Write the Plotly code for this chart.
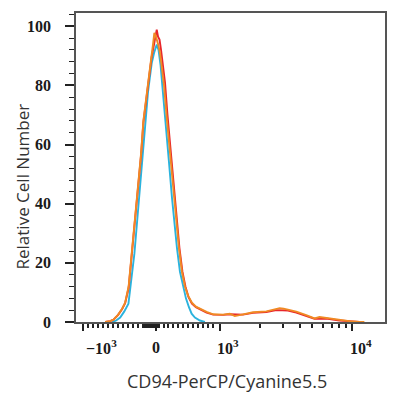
import plotly.graph_objects as go

# x positions are in display channels (biexponential display scale, 0-1023)
blue_x = [119.8, 133.0, 146.2, 159.4, 173.6, 182.5, 193.4, 202.3, 212.2, 220.4, 228.7, 238.6,
          250.8, 258.4, 267.3, 273.2, 279.8, 288.1, 298.0, 307.9, 317.8, 324.4, 334.3, 344.2,
          355.1, 364.0, 373.9, 382.8, 393.7, 410.2, 426.7]
blue_y = [0, 0.5, 1.5, 3.5, 6.2, 13, 23.2, 34, 45.8, 57, 68.4, 78,
          87.6, 91, 93.8, 92, 87, 78, 66, 54, 42, 34.5, 25, 17,
          11.9, 8, 5, 2.8, 1.5, 0.5, 0]

red_x = [96.7, 113.2, 124.1, 139.6, 152.8, 162.7, 174.2, 184.8, 195.7, 206.6, 215.5, 223.1,
         232.0, 242.9, 250.1, 256.7, 263.3, 267.3, 271.6, 276.5, 281.5, 288.1, 294.7, 302.9,
         312.8, 322.7, 332.6, 342.5, 352.4, 362.3, 372.2, 383.8, 397.0, 410.2, 432.3, 454.1,
         487.1, 509.2, 553.1, 586.1, 630.3, 663.3, 701.6, 729.3, 762.3, 789.7, 828.3, 872.2, 938.2]
red_y = [0, 0.3, 0.8, 2.4, 4.4, 6.4, 11.5, 22.5, 34.5, 45.5, 56.5, 67.5,
         75.5, 84.5, 89.5, 93, 97, 98.9, 96.5, 95.5, 92, 87, 81, 70,
         58, 46, 34.5, 25, 17, 12, 8.5, 6.2, 5.0, 4.3, 3.2, 2.5,
         2.4, 2.6, 2.5, 3.1, 3.4, 4.0, 3.9, 3.2, 2.1, 1.1, 1.2, 0.5, 0]

orange_x = [96.7, 113.2, 124.1, 139.6, 152.8, 162.7, 174.2, 184.8, 195.7, 206.6, 215.5, 223.1,
            232.0, 242.9, 250.1, 255.1, 259.4, 263.3, 266.6, 271.6, 278.2, 284.8, 291.4, 301.3,
            311.2, 321.1, 331.0, 340.9, 350.8, 360.7, 370.6, 383.8, 397.0, 410.2, 432.3, 454.1,
            487.1, 509.2, 525.7, 553.1, 586.1, 630.3, 663.3, 674.2, 687.4, 701.6, 729.3, 762.3,
            789.7, 806.2, 828.3, 850.1, 872.2, 905.2, 938.2, 954.7]
orange_y = [0, 0.3, 0.8, 2.5, 4.5, 6.5, 12, 23, 35, 46, 57, 68,
            76, 85, 90, 94, 97.8, 97, 96, 94, 91, 86, 80, 68,
            57, 46, 34.5, 25, 17, 12, 9, 6.5, 5.2, 4.5, 3.4, 2.6,
            2.5, 2.8, 2.0, 2.6, 3.3, 3.6, 4.3, 4.7, 4.5, 4.2, 3.5, 2.3,
            1.2, 1.7, 1.4, 0.9, 0.6, 0.3, 0.05, 0]

# axis decorations (display channels)
x_major_ticks = [21.8, 263.3, 477.8, 913.4]
x_tick_text = ["\u221210<sup>3</sup>", "0", "10<sup>3</sup>", "10<sup>4</sup>"]
x_label_pos = [84.5, 263.3, 503.6, 942.5]
x_minor_ticks = [38.9, 55.4, 71.9, 88.4, 104.9, 121.4, 137.9, 154.4, 170.9, 187.4, 203.9,
                 222.1, 225.4, 228.7, 232.0, 235.3, 238.6, 241.9, 245.2, 248.5, 251.8, 255.1,
                 258.4, 268.3, 271.6, 274.9,
                 289.7, 306.2, 322.7, 339.2, 355.7, 372.2, 388.7, 405.2, 421.7, 438.2, 454.7,
                 608.9, 685.6, 740.1, 782.3, 816.8, 845.9, 871.2, 893.4]
y_ticks = [0, 20, 40, 60, 80, 100]
x_title = "CD94-PerCP/Cyanine5.5"
y_title = "Relative Cell Number"

# page offset (browser body margin) and figure geometry
OFF = 8
W, H = 384, 384
L, R, T, B = 67.7, 6.5, 5.3, 70.3
PW, PH = W - L - R, H - T - B
SERIF = "Liberation Serif, DejaVu Serif, Times New Roman, serif"


def px_to_paper(px, py):
    return (px - OFF - L) / PW, (OFF + H - B - py) / PH


fig = go.Figure()
fig.add_trace(go.Scatter(x=blue_x, y=blue_y, mode="lines",
                         line=dict(color="#2BB3DD", width=1.9), showlegend=False))
fig.add_trace(go.Scatter(x=red_x, y=red_y, mode="lines",
                         line=dict(color="#E8262B", width=1.9), showlegend=False))
fig.add_trace(go.Scatter(x=orange_x, y=orange_y, mode="lines",
                         line=dict(color="#F08A24", width=1.9), showlegend=False))

fig.update_layout(
    width=W, height=H,
    margin=dict(l=L, r=R, t=T, b=B, autoexpand=False),
    paper_bgcolor="white", plot_bgcolor="white",
    showlegend=False,
)
fig.update_xaxes(
    range=[0, 1023], showgrid=False, zeroline=False, automargin=False,
    showline=True, linecolor="#555555", linewidth=1.5, mirror=True,
    tickmode="array", tickvals=x_major_ticks, showticklabels=False,
    ticks="outside", ticklen=7, tickwidth=2, tickcolor="#222222",
    minor=dict(tickmode="array", tickvals=x_minor_ticks, ticks="outside",
               ticklen=4, tickwidth=1.5, tickcolor="#222222", showgrid=False),
)
fig.update_yaxes(
    range=[0, 104.5], showgrid=False, zeroline=False, automargin=False,
    showline=True, linecolor="#555555", linewidth=1.5, mirror=True,
    tickmode="array", tickvals=y_ticks,
    ticks="outside", ticklen=9, tickwidth=1.5, tickcolor="#222222",
    tickfont=dict(family=SERIF, size=16, color="#1a1a1a", weight="bold"),
    ticklabelstandoff=11,
    minor=dict(dtick=4, ticks="outside", ticklen=5, tickwidth=1.2,
               tickcolor="#222222", showgrid=False),
)

for pos, txt in zip(x_label_pos, x_tick_text):
    fig.add_annotation(x=pos, y=0, xref="x", yref="paper", text=txt, showarrow=False,
                       yanchor="middle", xanchor="center", yshift=-25,
                       font=dict(family=SERIF, size=16, color="#1a1a1a", weight="bold"))

tx, ty = px_to_paper(226.7, 381)
fig.add_annotation(x=tx, y=ty, xref="paper", yref="paper", text=x_title,
                   showarrow=False, xanchor="center", yanchor="middle",
                   font=dict(family="Open Sans", size=18, color="#333333"))
tx, ty = px_to_paper(22, 186)
fig.add_annotation(x=tx, y=ty, xref="paper", yref="paper", text=y_title, textangle=-90,
                   showarrow=False, xanchor="center", yanchor="middle",
                   font=dict(family="Open Sans", size=17, color="#333333"))

fig.write_html("out.html")
